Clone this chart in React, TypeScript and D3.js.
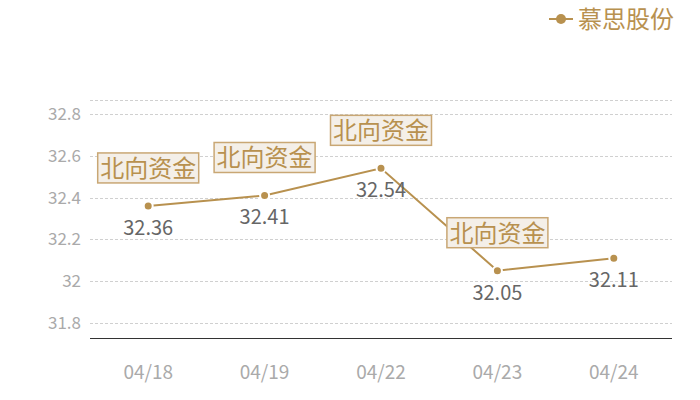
import { useEffect, useRef } from "react";
import * as d3 from "d3";

const dates = ["04/18", "04/19", "04/22", "04/23", "04/24"];
const values = [32.36, 32.41, 32.54, 32.05, 32.11];
const flagged = [true, true, true, true, false];
const yTicks = [31.8, 32, 32.2, 32.4, 32.6, 32.8];
const seriesName = "慕思股份";
const flagText = "北向资金";

const FONT = "'Noto Sans CJK SC', 'Noto Sans', sans-serif";
const GOLD = "#b8914f";

export default function App() {
  const svgRef = useRef<SVGSVGElement>(null);

  useEffect(() => {
    if (!svgRef.current) return;
    const width = 700;
    const height = 400;
    const margin = { top: 100, right: 28, bottom: 62, left: 90 };
    const innerWidth = width - margin.left - margin.right;
    const innerHeight = height - margin.top - margin.bottom;

    d3.select(svgRef.current).selectAll("*").remove();
    const svg = d3.select(svgRef.current);
    const g = svg.append("g").attr("transform", `translate(${margin.left},${margin.top})`);

    const x = d3.scaleBand<string>().domain(dates).range([0, innerWidth]);
    const y = d3.scaleLinear().domain([31.728, 32.867]).range([innerHeight, 0]);
    const cx = (d: string) => (x(d) ?? 0) + x.bandwidth() / 2;

    // grid lines (top edge + ticks)
    g.append("line")
      .attr("x1", 0).attr("x2", innerWidth)
      .attr("y1", 0.5).attr("y2", 0.5)
      .attr("stroke", "#d0d0d0").attr("stroke-dasharray", "3,2");
    g.selectAll(".grid")
      .data(yTicks)
      .join("line")
      .attr("x1", 0).attr("x2", innerWidth)
      .attr("y1", d => Math.round(y(d)) + 0.5)
      .attr("y2", d => Math.round(y(d)) + 0.5)
      .attr("stroke", "#d0d0d0")
      .attr("stroke-dasharray", "3,2");

    // y labels
    g.selectAll(".ylab")
      .data(yTicks)
      .join("text")
      .attr("x", -9)
      .attr("y", d => y(d))
      .attr("dy", "0.35em")
      .attr("text-anchor", "end")
      .attr("fill", "#aaaaaa")
      .attr("font-size", 17)
      .attr("font-family", FONT)
      .text(d => String(d));

    // x axis line
    g.append("line")
      .attr("x1", 0).attr("x2", innerWidth)
      .attr("y1", innerHeight + 0.5).attr("y2", innerHeight + 0.5)
      .attr("stroke", "#333").attr("stroke-width", 1);

    g.selectAll(".xlab")
      .data(dates)
      .join("text")
      .attr("x", d => cx(d))
      .attr("y", innerHeight + 41)
      .attr("text-anchor", "middle")
      .attr("fill", "#aaaaaa")
      .attr("font-size", 19)
      .attr("font-family", FONT)
      .text(d => d);

    // line
    const pts = dates.map((d, i) => ({ d, v: values[i], f: flagged[i] }));
    const line = d3.line<{ d: string; v: number }>()
      .x(p => cx(p.d))
      .y(p => y(p.v));
    g.append("path")
      .datum(pts)
      .attr("d", line)
      .attr("fill", "none")
      .attr("stroke", GOLD)
      .attr("stroke-width", 2);

    g.selectAll(".pt")
      .data(pts)
      .join("circle")
      .attr("cx", p => cx(p.d))
      .attr("cy", p => y(p.v))
      .attr("r", 4.5)
      .attr("fill", GOLD)
      .attr("stroke", "#fff")
      .attr("stroke-width", 2);

    // value labels
    g.selectAll(".val")
      .data(pts)
      .join("text")
      .attr("x", p => cx(p.d))
      .attr("y", p => y(p.v) + 29)
      .attr("text-anchor", "middle")
      .attr("fill", "#666666")
      .attr("font-size", 20)
      .attr("font-family", FONT)
      .text(p => p.v.toFixed(2));

    // flag boxes
    const flags = g.selectAll(".flag")
      .data(pts.filter(p => p.f))
      .join("g")
      .attr("transform", p => `translate(${cx(p.d)},${y(p.v) - 23})`);
    flags.append("rect")
      .attr("x", -50.5).attr("y", -30)
      .attr("width", 101).attr("height", 30)
      .attr("fill", "#f4efe8")
      .attr("stroke", "#c9a774")
      .attr("stroke-width", 1.5);
    flags.append("text")
      .attr("x", 0)
      .attr("y", -6)
      .attr("text-anchor", "middle")
      .attr("fill", GOLD)
      .attr("font-size", 24)
      .attr("font-family", FONT)
      .text(flagText);

    // legend
    const lg = svg.append("g").attr("transform", "translate(549,19)");
    lg.append("line")
      .attr("x1", 0).attr("x2", 24).attr("y1", 0).attr("y2", 0)
      .attr("stroke", GOLD).attr("stroke-width", 2);
    lg.append("circle")
      .attr("cx", 12).attr("cy", 0).attr("r", 5)
      .attr("fill", GOLD);
    lg.append("text")
      .attr("x", 29)
      .attr("y", 0)
      .attr("dy", "0.36em")
      .attr("fill", GOLD)
      .attr("font-size", 24)
      .attr("font-family", FONT)
      .text(seriesName);
  }, []);

  return (
    <svg
      ref={svgRef}
      width={700}
      height={400}
      style={{ position: "absolute", left: 0, top: 0, background: "#fff" }}
    />
  );
}
